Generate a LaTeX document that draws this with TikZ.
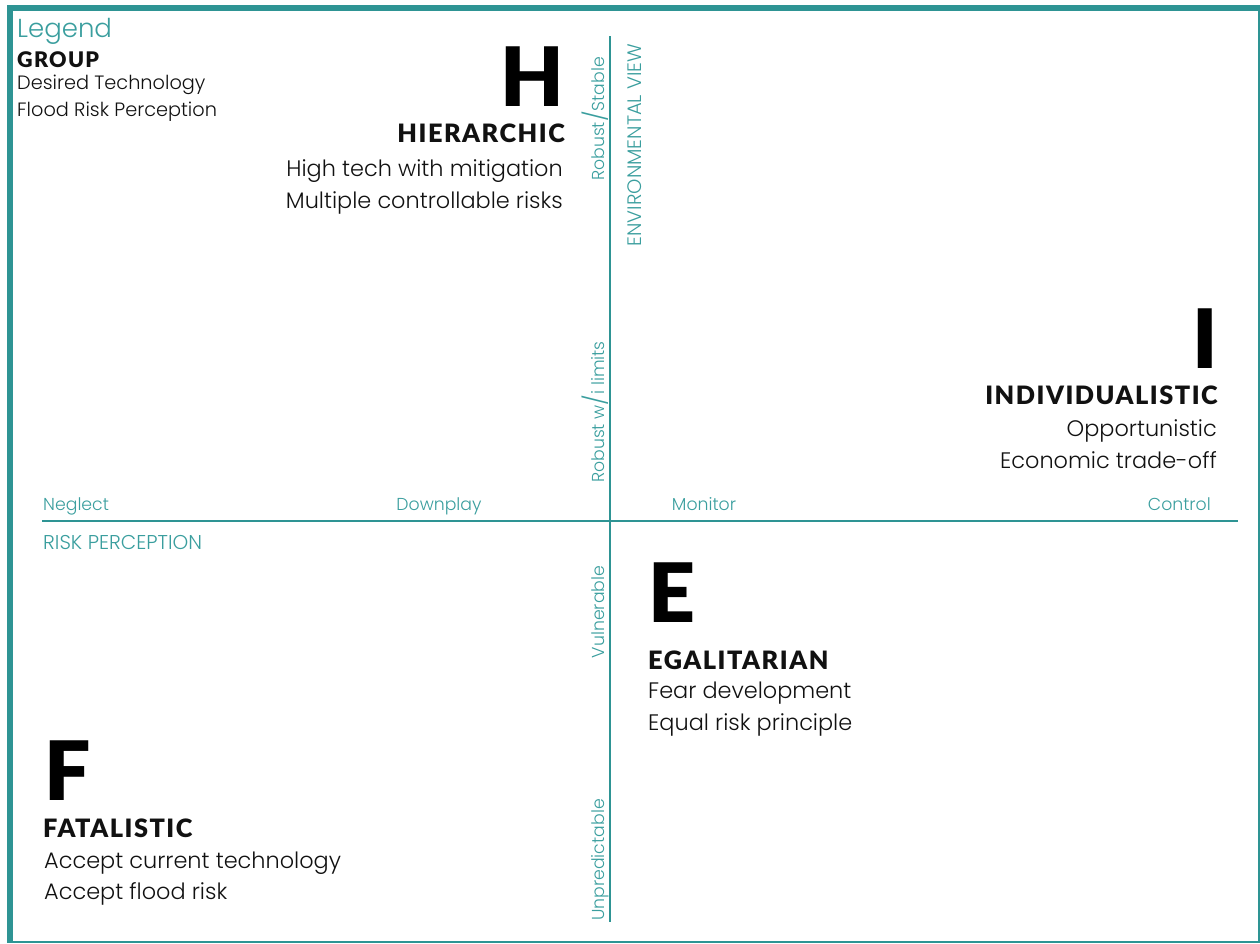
\documentclass[tikz,border=0pt]{standalone}
\usepackage{fontspec}
\setmainfont{Poppins Light}
\newfontfamily\headfont[LetterSpace=6]{Lato Black}
\newfontfamily\bigfont{Lato Black}
\definecolor{frameteal}{HTML}{2E9494}
\definecolor{labelteal}{HTML}{3A9E9E}
\definecolor{inkblack}{HTML}{111111}
\tikzset{
  axisline/.style={draw=frameteal, line width=2.8pt},
  bigletter/.style={inner sep=0pt, text=black, font=\bigfont\fontsize{82}{82}\selectfont},
  grouphead/.style={inner sep=0pt, text=inkblack, font=\headfont\fontsize{25.3}{25.3}\selectfont},
  bodytext/.style={inner sep=0pt, text=inkblack, font=\fontsize{22.4}{22.4}\selectfont},
  axislabel/.style={inner sep=0pt, text=labelteal, font=\fontsize{17.3}{17.3}\selectfont},
  vlabel/.style={axislabel, rotate=90, anchor=base},
}
\newcommand{\longslash}{{\fontsize{24}{24}\selectfont /}}
\begin{document}
\begin{tikzpicture}[x=1pt, y=-1pt]
\useasboundingbox (0,0) rectangle (1260,943);
% frame
\draw[frameteal, line width=2pt] (8,6) rectangle (1258.5,942);
\fill[frameteal] (7,5) rectangle (1259.5,11);
\fill[frameteal] (7,5) rectangle (13,943);

% axes
\coordinate (vtop) at (610,36);
\coordinate (vbot) at (610,922);
\coordinate (hleft) at (42,521);
\coordinate (hright) at (1238,521);
\draw[axisline] (vtop) -- (vbot);
\draw[axisline] (hleft) -- (hright);

% legend
\node[inner sep=0pt, anchor=base west, text=labelteal, font=\fontsize{26}{26}\selectfont] (legend) at (17,37) {Legend};
\node[inner sep=0pt, anchor=base west, text=inkblack, font=\headfont\fontsize{21.5}{21.5}\selectfont] (lgroup) at (17,67) {GROUP};
\node[bodytext, anchor=base west, font=\fontsize{19.3}{19.3}\selectfont] (ltech) at (17,89) {Desired Technology};
\node[bodytext, anchor=base west, font=\fontsize{19.3}{19.3}\selectfont] (lrisk) at (17,116) {Flood Risk Perception};

% hierarchic
\node[bigletter, anchor=base east] (hbig) at (564,106) {H};
\node[grouphead, anchor=base east] (hhead) at (565,142) {HIERARCHIC};
\node[bodytext, anchor=base east] (htech) at (563,176) {High tech with mitigation};
\node[bodytext, anchor=base east] (hrisk) at (563,208) {Multiple controllable risks};

% individualistic
\node[bigletter, anchor=base east] (ibig) at (1218,368) {I};
\node[grouphead, anchor=base east] (ihead) at (1218,404) {INDIVIDUALISTIC};
\node[bodytext, anchor=base east] (itech) at (1217,436) {Opportunistic};
\node[bodytext, anchor=base east] (irisk) at (1217,468) {Economic trade-off};

% egalitarian
\node[bigletter, anchor=base west] (ebig) at (648,622) {E};
\node[grouphead, anchor=base west] (ehead) at (648,669) {EGALITARIAN};
\node[bodytext, anchor=base west] (etech) at (648,698) {Fear development};
\node[bodytext, anchor=base west] (erisk) at (648,730) {Equal risk principle};

% fatalistic
\node[bigletter, anchor=base west] (fbig) at (44,800) {F};
\node[grouphead, anchor=base west] (fhead) at (43,837) {FATALISTIC};
\node[bodytext, anchor=base west] (ftech) at (44,868) {Accept current technology};
\node[bodytext, anchor=base west] (frisk) at (44,899) {Accept flood risk};

% risk perception axis
\node[axislabel, anchor=base west] (neglect) at (43,510) {Neglect};
\node[axislabel, anchor=base] (downplay) at (439,510) {Downplay};
\node[axislabel, anchor=base] (monitor) at (704,510) {Monitor};
\node[axislabel, anchor=base east] (control) at (1211,510) {Control};
\node[axislabel, anchor=base west, font=\fontsize{20}{20}\selectfont] (riskaxis) at (43,549) {RISK PERCEPTION};

% environmental view axis
\node[vlabel] (stable) at (604,119) {Robust\longslash Stable};
\node[vlabel] (limits) at (604,412) {Robust w\longslash i limits};
\node[vlabel] (vulnerable) at (604,612) {Vulnerable};
\node[vlabel] (unpredictable) at (604,860) {Unpredictable};
\node[vlabel, font=\fontsize{19.5}{19.5}\selectfont] (envaxis) at (641,145) {ENVIRONMENTAL VIEW};
\end{tikzpicture}
\end{document}
